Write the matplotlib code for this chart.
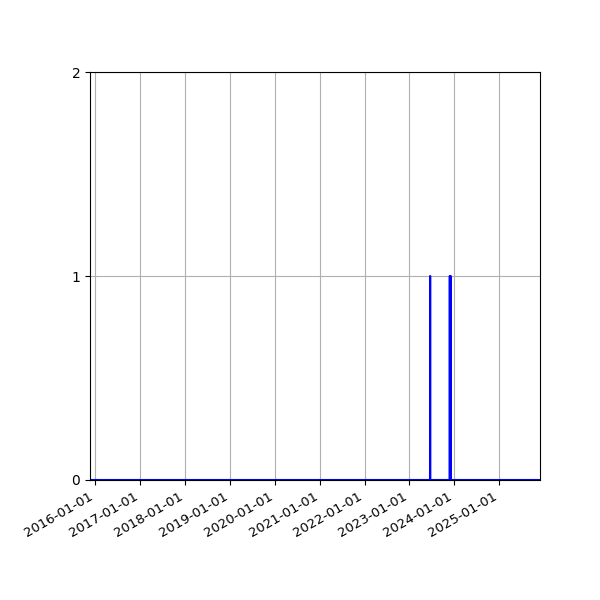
import matplotlib
matplotlib.use('Agg')
from matplotlib import pyplot as plt
import matplotlib.dates as mdates
import pandas as pd

# daily event counts, zero on every other day
start = '2015-11-19'
end = '2025-11-28'
event_dates = ['2023-06-18', '2023-11-25', '2023-12-02']
event_counts = [1, 1, 1]

days = pd.date_range(start, end, freq='D')
counts = pd.Series(0, index=days)
for d, c in zip(event_dates, event_counts):
    counts[pd.Timestamp(d)] = c

fig, ax = plt.subplots(figsize=(6, 6), dpi=100)
ax.plot(counts.index, counts.values, color='b')
ax.set_xlim(days[0], days[-1])
ax.set_ylim(0, 2)
ax.set_yticks([0, 1, 2])
ax.xaxis.set_major_locator(mdates.YearLocator())
ax.xaxis.set_major_formatter(mdates.DateFormatter('%Y-%m-%d'))
ax.tick_params(axis='x', labelsize=9.5)
ax.grid(True)
fig.autofmt_xdate()
fig.subplots_adjust(left=0.15, right=0.9, top=0.88, bottom=0.2)
fig.savefig('out.png')
